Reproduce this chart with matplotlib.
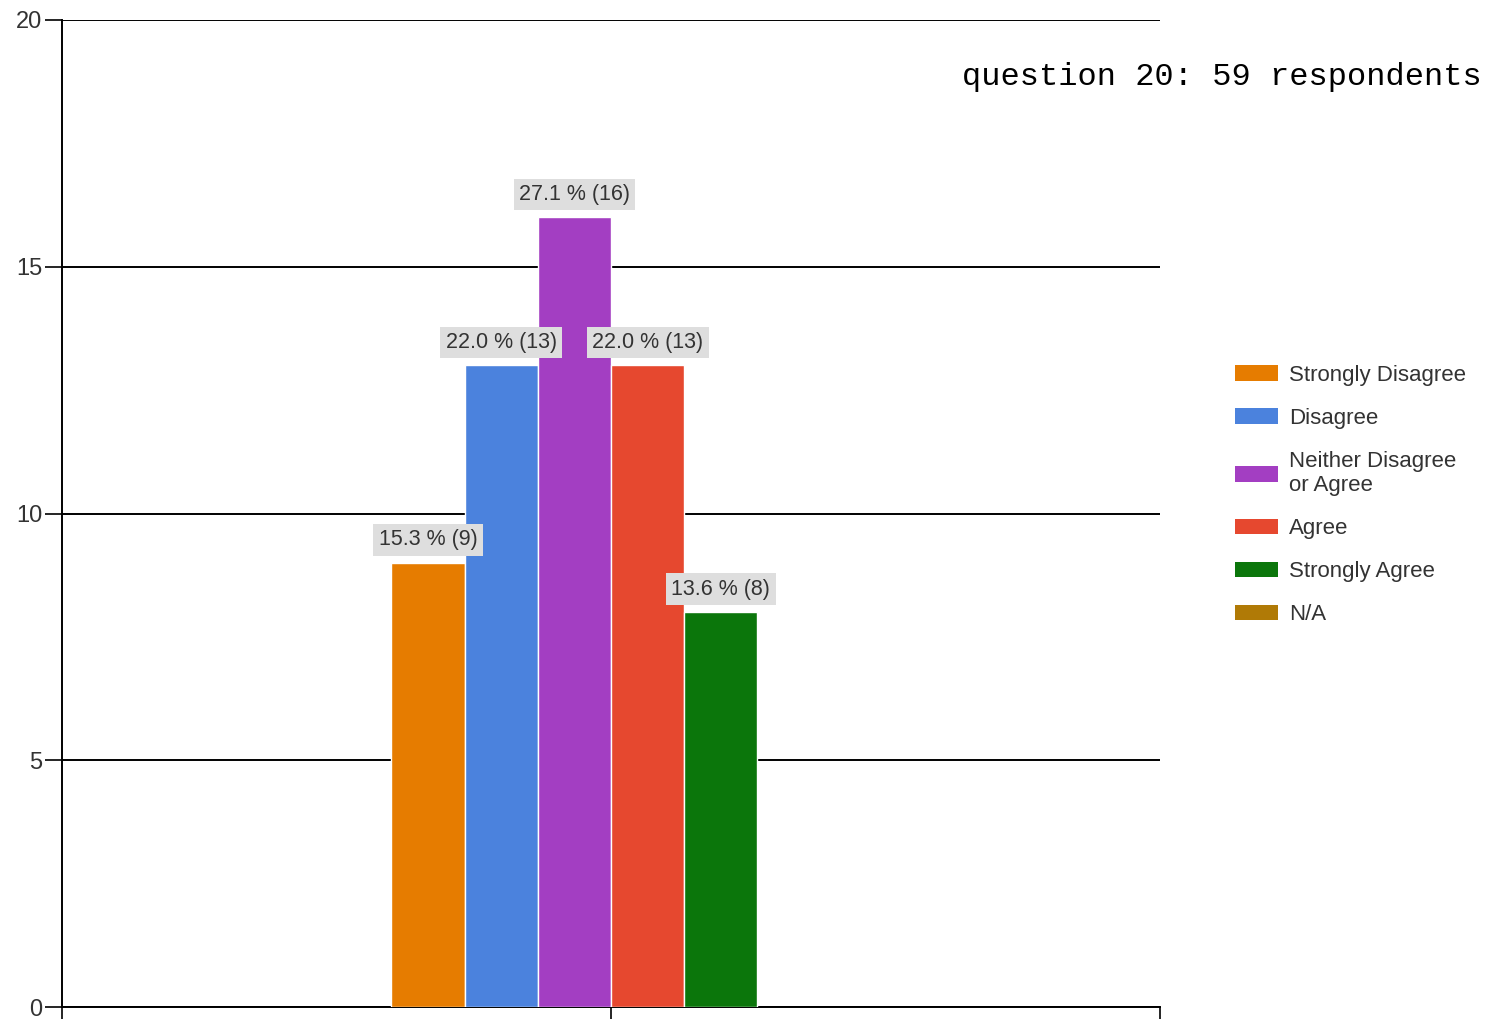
import numpy as np
import matplotlib
matplotlib.use("Agg")
import matplotlib.pyplot as plt
from matplotlib.patches import Patch

# survey answers for question 20
categories = ["Strongly Disagree", "Disagree", "Neither Disagree\nor Agree",
              "Agree", "Strongly Agree", "N/A"]
counts = [9, 13, 16, 13, 8, 0]
percents = [15.3, 22.0, 27.1, 22.0, 13.6, 0.0]
colors = ["#E67C00", "#4B82DD", "#A33EC2", "#E6482F", "#0B760B", "#B07A06"]
title = "question 20: 59 respondents"
y_ticks = [0, 5, 10, 15, 20]


def plot_chart():
    fig = plt.figure(figsize=(14.87, 10.19), dpi=100)
    ax = fig.add_axes([62 / 1487, 12 / 1019, 1098 / 1487, 987 / 1019])

    n = len(counts)
    width = 0.4 / n
    xs = (np.arange(n) - (n - 1) / 2) * width
    ax.bar(xs, counts, width=width, color=colors, edgecolor="white",
           linewidth=[1 if c else 0 for c in counts], zorder=3)

    # value labels in grey boxes
    for x, c, p in zip(xs, counts, percents):
        if c == 0:
            continue
        ax.annotate(f"{p:.1f} % ({c})", (x, c), xytext=(0, 9),
                    textcoords="offset points", ha="center", va="bottom",
                    fontsize=15.5, color="#333333", zorder=5,
                    family="Liberation Sans",
                    bbox=dict(boxstyle="square,pad=0.25", fc="#dedede", ec="none"))

    ax.set_xlim(-0.5, 0.5)
    ax.set_ylim(0, 20)
    ax.set_yticks(y_ticks)
    ax.set_xticks([-0.5, 0, 0.5])
    ax.set_xticklabels([])
    ax.tick_params(axis="y", length=12, width=1.2, labelsize=17,
                   labelcolor="#333333", pad=2)
    ax.tick_params(axis="x", length=12, width=1.2)
    for lab in ax.get_yticklabels():
        lab.set_family("Liberation Sans")
    ax.grid(axis="y", color="black", linewidth=1.4, zorder=0)
    ax.set_axisbelow(True)
    for s in ["top", "right"]:
        ax.spines[s].set_visible(False)
    ax.spines["left"].set_linewidth(1.4)
    ax.spines["bottom"].set_linewidth(1.4)

    fig.text(962 / 1487, 1 - 77 / 1019, title, family="Liberation Mono",
             fontsize=23, va="center", ha="left", color="black")

    handles = [Patch(facecolor=c, edgecolor="none") for c in colors]
    fig.legend(handles, categories, loc="upper left",
               bbox_to_anchor=(1235 / 1487, 1 - 365 / 1019),
               frameon=False, borderpad=0, borderaxespad=0,
               prop={"family": "Liberation Sans", "size": 16},
               handlelength=1.95, handleheight=0.7, handletextpad=0.5,
               labelspacing=0.99, labelcolor="#333333")

    fig.savefig("out.png", dpi=100)


if __name__ == "__main__":
    plot_chart()
